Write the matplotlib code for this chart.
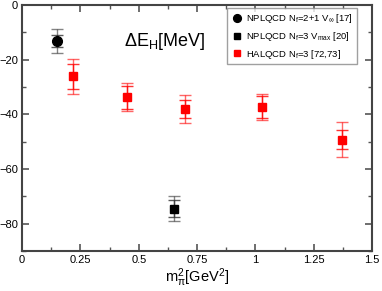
import matplotlib
matplotlib.use("Agg")
import matplotlib.pyplot as plt
from matplotlib.ticker import MultipleLocator

plt.rcParams['font.family'] = ['Liberation Sans', 'DejaVu Sans']
plt.rcParams['mathtext.default'] = 'regular'

# NPLQCD Nf=2+1 V_inf
npl21_x = [0.15]
npl21_y = [-13.2]
npl21_stat = [2.3]
npl21_sys = [4.4]

# NPLQCD Nf=3 V_max
npl3_x = [0.65]
npl3_y = [-74.5]
npl3_stat = [3.2]
npl3_sys = [4.6]

# HALQCD Nf=3
hal_x = [0.218, 0.45, 0.70, 1.03, 1.37]
hal_y = [-26.1, -33.7, -38.0, -37.3, -49.2]
hal_stat = [4.5, 4.2, 3.2, 4.0, 3.5]
hal_sys = [6.5, 5.2, 5.2, 4.6, 6.4]

fig = plt.figure(figsize=(3.82, 2.91), dpi=100)
ax = fig.add_axes([0.058, 0.137, 0.916, 0.846])

def draw(x, y, stat, sys, col, ecol, marker, ms, label):
    ax.errorbar(x, y, yerr=sys, fmt='none', ecolor=ecol, elinewidth=1.0,
                capsize=4, capthick=1.0, alpha=0.6)
    ax.errorbar(x, y, yerr=stat, fmt='none', ecolor=ecol, elinewidth=1.0,
                capsize=4, capthick=1.0, alpha=0.8)
    ax.plot(x, y, linestyle='none', marker=marker, ms=ms, color=col,
            label=label)

draw(npl21_x, npl21_y, npl21_stat, npl21_sys, 'black', '#333333', 'o', 7,
     'NPLQCD N$_f$=2+1 V$_\\infty$ [17]')
draw(npl3_x, npl3_y, npl3_stat, npl3_sys, 'black', '#333333', 's', 6,
     'NPLQCD N$_f$=3 V$_{max}$ [20]')
draw(hal_x, hal_y, hal_stat, hal_sys, 'red', 'red', 's', 6,
     'HALQCD N$_f$=3 [72,73]')

ax.set_xlim(0, 1.5)
ax.set_ylim(-90, 0)
ax.xaxis.set_major_locator(MultipleLocator(0.25))
ax.xaxis.set_minor_locator(MultipleLocator(0.125))
ax.yaxis.set_major_locator(MultipleLocator(20))
ax.yaxis.set_minor_locator(MultipleLocator(10))
ax.set_xticks([0, 0.25, 0.5, 0.75, 1, 1.25, 1.5])
ax.set_xticklabels(['0', '0.25', '0.5', '0.75', '1', '1.25', '1.5'])
ax.tick_params(which='both', direction='in', top=True, right=True,
               labelsize=8, color='#555555', pad=3)
ax.tick_params(which='major', length=5, width=1.2)
ax.tick_params(which='minor', length=3, width=1.0)
for s in ax.spines.values():
    s.set_linewidth(1.5)
    s.set_color('#444444')

ax.set_xlabel('m$_\\pi^2$[GeV$^2$]', fontsize=10.5, labelpad=1)
ax.text(0.29, 0.835, '$\\Delta$E$_H$[MeV]', transform=ax.transAxes,
        fontsize=13)

leg = ax.legend(loc='upper right', fontsize=6.8, frameon=True, fancybox=False,
                handletextpad=0.4, borderpad=0.4, labelspacing=0.5,
                bbox_to_anchor=(0.97, 1.005), handlelength=1.2, numpoints=1,
                markerscale=0.8)
leg.get_frame().set_edgecolor('#888888')
leg.get_frame().set_linewidth(1.0)

fig.savefig('out.png', dpi=100)
